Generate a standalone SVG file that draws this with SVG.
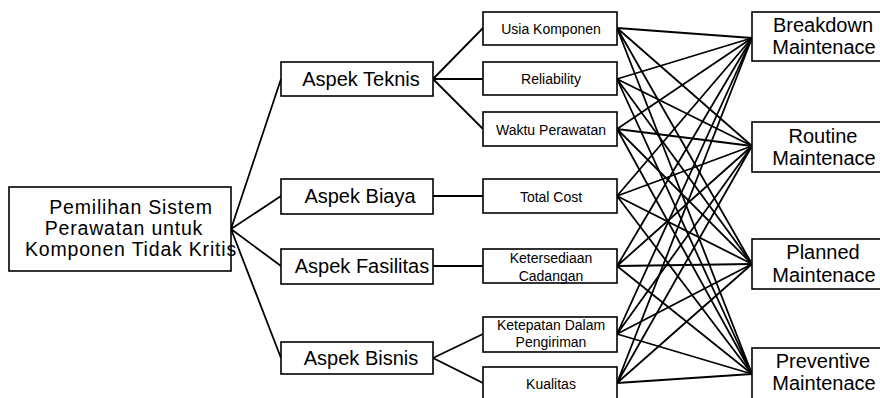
<svg xmlns="http://www.w3.org/2000/svg" width="880" height="398" viewBox="0 0 880 398">
<style>
.box{fill:#fff;stroke:#000;stroke-width:1.6}
.ln{stroke:#000;stroke-width:1.8;fill:none}
text{font-family:"Liberation Sans",Arial,sans-serif;fill:#000;text-anchor:middle}
.big{font-size:20px}
.root{font-size:19.5px;letter-spacing:0.8px}
.sm{font-size:14px}
</style>
<rect width="880" height="398" fill="#fff"/>
<g id="connectors" class="ln">
<path d="M231 229L281 79M231 229L281 196M231 229L281 266M231 229L281 358"/>
<path d="M433 79L483 28M433 79L483 79M433 79L483 129M433 196L483 196M433 266L483 266M433 358L483 334M433 358L483 383"/>
<path d="M617 28L752 38M617 28L752 146M617 28L752 264M617 28L752 374"/>
<path d="M617 79L752 38M617 79L752 146M617 79L752 264M617 79L752 374"/>
<path d="M617 129L752 38M617 129L752 146M617 129L752 264M617 129L752 374"/>
<path d="M617 196L752 38M617 196L752 146M617 196L752 264M617 196L752 374"/>
<path d="M617 266L752 38M617 266L752 146M617 266L752 264M617 266L752 374"/>
<path d="M617 334L752 38M617 334L752 146M617 334L752 264M617 334L752 374"/>
<path d="M617 383L752 38M617 383L752 146M617 383L752 264M617 383L752 374"/>
</g>
<g id="root">
<rect class="box" x="9" y="187" width="222" height="84"/>
<text class="root" x="131" y="214">Pemilihan Sistem</text>
<text class="root" x="124" y="235">Perawatan untuk</text>
<text class="root" x="131" y="256">Komponen Tidak Kritis</text>
</g>
<g id="aspek-teknis"><rect class="box" x="281" y="62" width="152" height="34"/><text class="big" x="361" y="86">Aspek Teknis</text></g>
<g id="aspek-biaya"><rect class="box" x="281" y="179" width="152" height="35"/><text class="big" x="360" y="203">Aspek Biaya</text></g>
<g id="aspek-fasilitas"><rect class="box" x="281" y="249" width="152" height="35"/><text class="big" x="362" y="273">Aspek Fasilitas</text></g>
<g id="aspek-bisnis"><rect class="box" x="281" y="342" width="152" height="32"/><text class="big" x="361" y="365">Aspek Bisnis</text></g>
<g id="usia"><rect class="box" x="483" y="12" width="134" height="33"/><text class="sm" x="551" y="34">Usia Komponen</text></g>
<g id="reliability"><rect class="box" x="483" y="62" width="134" height="33"/><text class="sm" x="551" y="84">Reliability</text></g>
<g id="waktu"><rect class="box" x="483" y="112" width="134" height="34"/><text class="sm" x="551" y="135">Waktu Perawatan</text></g>
<g id="total-cost"><rect class="box" x="483" y="179" width="134" height="34"/><text class="sm" x="551" y="202">Total Cost</text></g>
<g id="ketersediaan"><rect class="box" x="483" y="249" width="134" height="34"/><text class="sm" x="551" y="263">Ketersediaan</text><text class="sm" x="551" y="281">Cadangan</text></g>
<g id="ketepatan"><rect class="box" x="483" y="317" width="134" height="35"/><text class="sm" x="551" y="330">Ketepatan Dalam</text><text class="sm" x="551" y="347">Pengiriman</text></g>
<g id="kualitas"><rect class="box" x="483" y="367" width="134" height="36"/><text class="sm" x="551" y="389">Kualitas</text></g>
<g id="breakdown"><rect class="box" x="752" y="12" width="150" height="49"/><text class="big" x="823" y="32">Breakdown</text><text class="big" x="824" y="54">Maintenace</text></g>
<g id="routine"><rect class="box" x="752" y="122" width="150" height="50"/><text class="big" x="823" y="143">Routine</text><text class="big" x="824" y="165">Maintenace</text></g>
<g id="planned"><rect class="box" x="752" y="239" width="150" height="50"/><text class="big" x="823" y="259">Planned</text><text class="big" x="824" y="282">Maintenace</text></g>
<g id="preventive"><rect class="box" x="752" y="348" width="150" height="56"/><text class="big" x="823" y="368">Preventive</text><text class="big" x="824" y="390">Maintenace</text></g>
</svg>
